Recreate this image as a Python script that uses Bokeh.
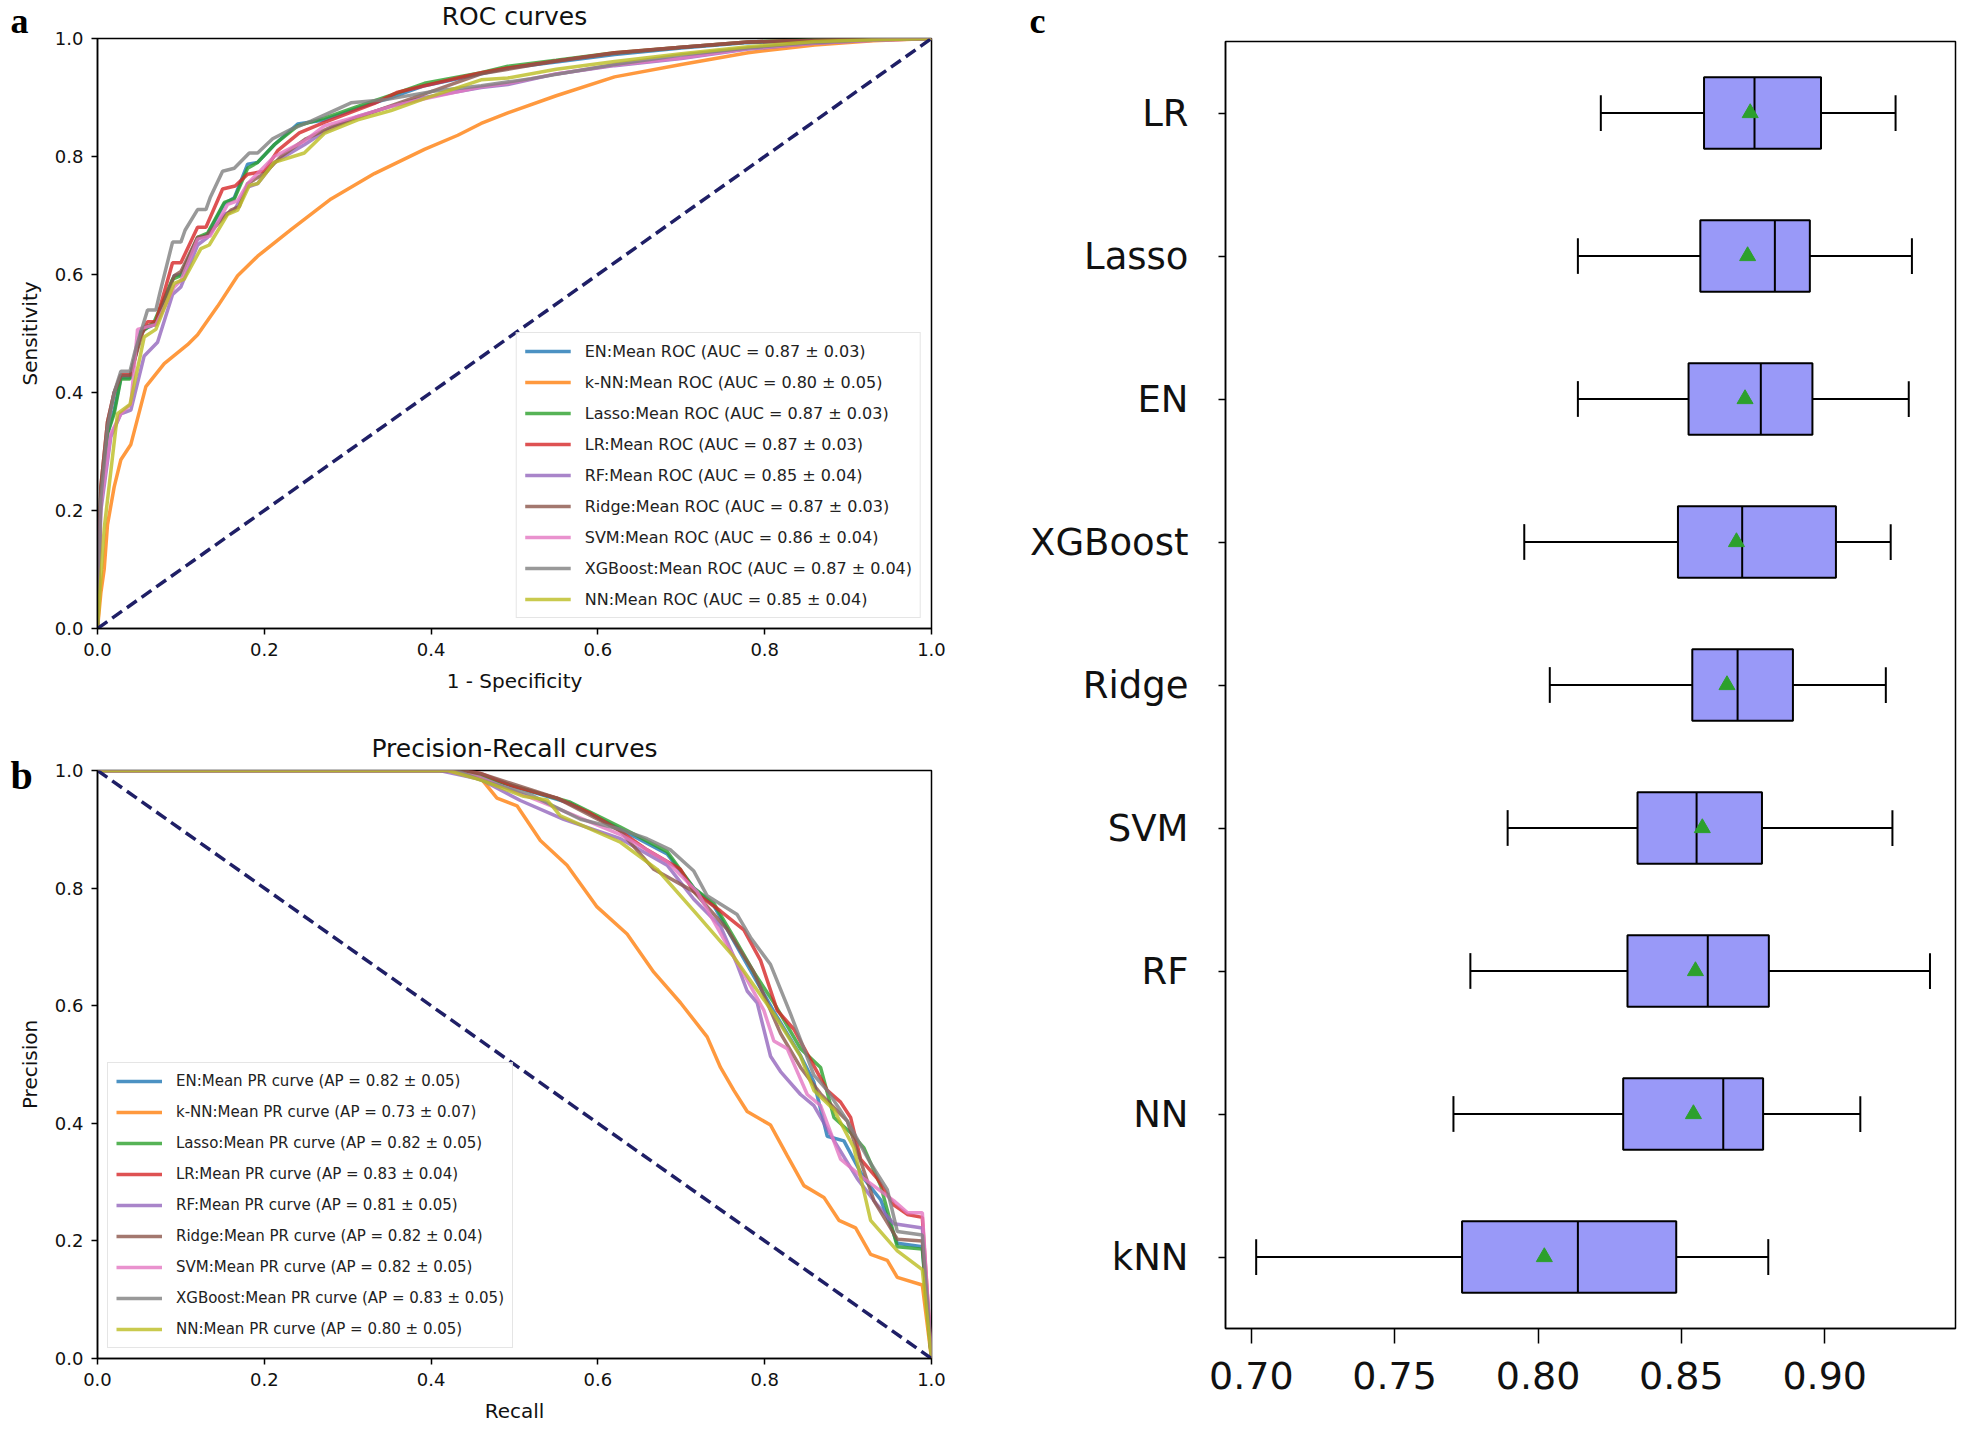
from bokeh.plotting import figure
from bokeh.models import (Legend, LegendItem, Label, ColumnDataSource, FactorRange,
                          Range1d, FixedTicker, NumeralTickFormatter)
from bokeh.transform import dodge
from bokeh.layouts import row, column
from bokeh.embed import file_html
from bokeh.resources import INLINE

# ---------------- data ----------------
models = ["EN", "k-NN", "Lasso", "LR", "RF", "Ridge", "SVM", "XGBoost", "NN"]
colors = ["#1f77b4", "#ff7f0e", "#2ca02c", "#d62728", "#9467bd",
          "#8c564b", "#e377c2", "#7f7f7f", "#bcbd22"]
auc_text = ["0.87 ± 0.03", "0.80 ± 0.05", "0.87 ± 0.03", "0.87 ± 0.03", "0.85 ± 0.04",
            "0.87 ± 0.03", "0.86 ± 0.04", "0.87 ± 0.04", "0.85 ± 0.04"]
ap_text = ["0.82 ± 0.05", "0.73 ± 0.07", "0.82 ± 0.05", "0.83 ± 0.04", "0.81 ± 0.05",
           "0.82 ± 0.04", "0.82 ± 0.05", "0.83 ± 0.05", "0.80 ± 0.05"]

# ROC curves (1 - specificity, sensitivity)
roc_fpr_EN = [0, 0.004, 0.012, 0.02, 0.028, 0.039, 0.052, 0.068, 0.092, 0.10, 0.12, 0.132, 0.152, 0.164, 0.18, 0.192, 0.212, 0.24, 0.272, 0.312, 0.352, 0.392, 0.46, 0.492, 0.55, 0.62, 0.70, 0.78, 0.86, 0.93, 1.0]
roc_tpr_EN = [0, 0.23, 0.33, 0.37, 0.425, 0.425, 0.505, 0.515, 0.598, 0.60, 0.66, 0.668, 0.72, 0.73, 0.787, 0.79, 0.82, 0.855, 0.862, 0.882, 0.90, 0.92, 0.94, 0.95, 0.96, 0.973, 0.984, 0.993, 0.997, 0.999, 1.0]
roc_fpr_kNN = [0, 0.004, 0.008, 0.012, 0.02, 0.028, 0.04, 0.058, 0.08, 0.108, 0.12, 0.144, 0.168, 0.192, 0.232, 0.28, 0.332, 0.392, 0.432, 0.46, 0.492, 0.55, 0.62, 0.70, 0.78, 0.86, 0.93, 1.0]
roc_tpr_kNN = [0, 0.06, 0.10, 0.176, 0.24, 0.286, 0.312, 0.41, 0.449, 0.481, 0.498, 0.546, 0.598, 0.631, 0.676, 0.728, 0.771, 0.812, 0.836, 0.856, 0.874, 0.903, 0.935, 0.956, 0.976, 0.989, 0.996, 1.0]
roc_fpr_Lasso = [0, 0.004, 0.012, 0.02, 0.028, 0.039, 0.052, 0.068, 0.09, 0.10, 0.12, 0.132, 0.152, 0.164, 0.18, 0.192, 0.212, 0.24, 0.272, 0.312, 0.352, 0.392, 0.46, 0.492, 0.55, 0.62, 0.70, 0.78, 0.86, 0.93, 1.0]
roc_tpr_Lasso = [0, 0.234, 0.33, 0.364, 0.423, 0.423, 0.501, 0.52, 0.592, 0.598, 0.663, 0.67, 0.722, 0.728, 0.78, 0.79, 0.82, 0.852, 0.865, 0.885, 0.904, 0.924, 0.942, 0.953, 0.963, 0.976, 0.985, 0.994, 0.998, 0.999, 1.0]
roc_fpr_LR = [0, 0.004, 0.012, 0.02, 0.028, 0.04, 0.05, 0.06, 0.07, 0.09, 0.10, 0.12, 0.13, 0.15, 0.165, 0.18, 0.2, 0.216, 0.242, 0.272, 0.332, 0.36, 0.392, 0.432, 0.46, 0.492, 0.55, 0.62, 0.70, 0.78, 0.86, 0.93, 1.0]
roc_tpr_LR = [0, 0.24, 0.35, 0.40, 0.43, 0.43, 0.49, 0.52, 0.52, 0.62, 0.62, 0.68, 0.68, 0.745, 0.75, 0.77, 0.775, 0.81, 0.84, 0.858, 0.89, 0.909, 0.92, 0.933, 0.942, 0.95, 0.962, 0.976, 0.985, 0.994, 0.997, 0.999, 1.0]
roc_fpr_RF = [0, 0.004, 0.016, 0.028, 0.04, 0.056, 0.072, 0.09, 0.10, 0.12, 0.132, 0.152, 0.164, 0.18, 0.192, 0.212, 0.248, 0.272, 0.312, 0.352, 0.392, 0.46, 0.492, 0.55, 0.62, 0.70, 0.78, 0.86, 0.93, 1.0]
roc_tpr_RF = [0, 0.20, 0.325, 0.364, 0.37, 0.462, 0.485, 0.566, 0.579, 0.65, 0.663, 0.702, 0.709, 0.748, 0.754, 0.79, 0.82, 0.842, 0.868, 0.885, 0.90, 0.917, 0.922, 0.94, 0.954, 0.966, 0.982, 0.992, 0.997, 1.0]
roc_fpr_Ridge = [0, 0.004, 0.012, 0.02, 0.028, 0.039, 0.056, 0.07, 0.092, 0.10, 0.12, 0.13, 0.16, 0.17, 0.18, 0.20, 0.22, 0.25, 0.28, 0.32, 0.36, 0.40, 0.46, 0.55, 0.62, 0.70, 0.78, 0.86, 0.93, 1.0]
roc_tpr_Ridge = [0, 0.24, 0.35, 0.40, 0.429, 0.429, 0.511, 0.515, 0.598, 0.605, 0.663, 0.665, 0.709, 0.715, 0.754, 0.771, 0.80, 0.83, 0.85, 0.87, 0.89, 0.91, 0.94, 0.962, 0.975, 0.985, 0.994, 0.997, 0.999, 1.0]
roc_fpr_SVM = [0, 0.004, 0.016, 0.028, 0.04, 0.048, 0.07, 0.092, 0.10, 0.12, 0.135, 0.156, 0.168, 0.18, 0.212, 0.248, 0.272, 0.312, 0.352, 0.392, 0.46, 0.492, 0.55, 0.62, 0.70, 0.78, 0.86, 0.93, 1.0]
roc_tpr_SVM = [0, 0.21, 0.33, 0.364, 0.38, 0.507, 0.515, 0.579, 0.59, 0.66, 0.665, 0.719, 0.725, 0.754, 0.80, 0.826, 0.852, 0.868, 0.885, 0.898, 0.918, 0.924, 0.94, 0.955, 0.967, 0.983, 0.992, 0.997, 1.0]
roc_fpr_XGB = [0, 0.004, 0.012, 0.02, 0.028, 0.039, 0.045, 0.06, 0.07, 0.075, 0.09, 0.10, 0.105, 0.12, 0.13, 0.135, 0.15, 0.164, 0.182, 0.192, 0.21, 0.232, 0.256, 0.304, 0.344, 0.40, 0.46, 0.52, 0.62, 0.70, 0.78, 0.86, 0.93, 1.0]
roc_tpr_XGB = [0, 0.22, 0.34, 0.40, 0.436, 0.436, 0.47, 0.54, 0.54, 0.57, 0.655, 0.655, 0.675, 0.71, 0.71, 0.73, 0.775, 0.78, 0.806, 0.806, 0.83, 0.846, 0.86, 0.891, 0.896, 0.91, 0.92, 0.932, 0.956, 0.972, 0.984, 0.993, 0.998, 1.0]
roc_fpr_NN = [0, 0.008, 0.024, 0.039, 0.056, 0.07, 0.092, 0.104, 0.124, 0.134, 0.156, 0.168, 0.182, 0.192, 0.212, 0.248, 0.272, 0.312, 0.352, 0.392, 0.46, 0.492, 0.55, 0.62, 0.70, 0.78, 0.86, 0.93, 1.0]
roc_tpr_NN = [0, 0.169, 0.364, 0.38, 0.494, 0.507, 0.585, 0.592, 0.644, 0.65, 0.702, 0.709, 0.751, 0.754, 0.79, 0.806, 0.839, 0.862, 0.878, 0.898, 0.93, 0.933, 0.948, 0.961, 0.974, 0.986, 0.995, 0.998, 1.0]

# Precision-recall curves (recall, precision)
pr_rec_EN = [0, 0.44, 0.459, 0.567, 0.627, 0.683, 0.715, 0.739, 0.763, 0.787, 0.811, 0.843, 0.859, 0.875, 0.895, 0.919, 0.939, 0.959, 0.989, 1.0]
pr_prec_EN = [1, 1, 0.99, 0.944, 0.90, 0.858, 0.80, 0.77, 0.71, 0.65, 0.59, 0.515, 0.47, 0.378, 0.37, 0.306, 0.27, 0.196, 0.19, 0.0]
pr_rec_kNN = [0, 0.40, 0.42, 0.459, 0.479, 0.503, 0.531, 0.563, 0.599, 0.635, 0.667, 0.699, 0.731, 0.747, 0.763, 0.779, 0.807, 0.827, 0.847, 0.871, 0.889, 0.909, 0.927, 0.947, 0.959, 0.989, 1.0]
pr_prec_kNN = [1, 1, 1, 0.988, 0.953, 0.94, 0.881, 0.839, 0.768, 0.722, 0.657, 0.605, 0.547, 0.495, 0.456, 0.42, 0.397, 0.345, 0.294, 0.274, 0.235, 0.222, 0.177, 0.167, 0.138, 0.125, 0.0]
pr_rec_Lasso = [0, 0.44, 0.459, 0.567, 0.627, 0.683, 0.715, 0.739, 0.763, 0.787, 0.811, 0.843, 0.867, 0.883, 0.903, 0.919, 0.939, 0.959, 0.989, 1.0]
pr_prec_Lasso = [1, 1, 0.99, 0.946, 0.904, 0.862, 0.80, 0.774, 0.716, 0.657, 0.605, 0.527, 0.495, 0.41, 0.384, 0.358, 0.294, 0.19, 0.186, 0.0]
pr_rec_LR = [0, 0.44, 0.459, 0.499, 0.551, 0.591, 0.627, 0.659, 0.699, 0.715, 0.747, 0.775, 0.795, 0.815, 0.835, 0.855, 0.875, 0.891, 0.903, 0.915, 0.935, 0.955, 0.971, 0.989, 1.0]
pr_prec_LR = [1, 1, 0.995, 0.973, 0.953, 0.927, 0.897, 0.865, 0.832, 0.794, 0.761, 0.729, 0.677, 0.592, 0.56, 0.508, 0.456, 0.436, 0.41, 0.339, 0.306, 0.261, 0.245, 0.24, 0.0]
pr_rec_RF = [0, 0.41, 0.459, 0.507, 0.559, 0.627, 0.683, 0.715, 0.747, 0.767, 0.779, 0.791, 0.807, 0.819, 0.843, 0.859, 0.883, 0.911, 0.935, 0.955, 0.989, 1.0]
pr_prec_RF = [1, 1, 0.985, 0.949, 0.917, 0.884, 0.839, 0.781, 0.735, 0.67, 0.625, 0.605, 0.514, 0.488, 0.449, 0.43, 0.371, 0.306, 0.261, 0.229, 0.222, 0.0]
pr_rec_Ridge = [0, 0.44, 0.459, 0.551, 0.627, 0.667, 0.715, 0.755, 0.787, 0.819, 0.843, 0.867, 0.899, 0.931, 0.959, 0.989, 1.0]
pr_prec_Ridge = [1, 1, 0.995, 0.953, 0.897, 0.832, 0.794, 0.73, 0.657, 0.553, 0.495, 0.45, 0.404, 0.268, 0.203, 0.20, 0.0]
pr_rec_SVM = [0, 0.42, 0.459, 0.539, 0.627, 0.683, 0.719, 0.755, 0.779, 0.799, 0.811, 0.827, 0.851, 0.867, 0.891, 0.919, 0.955, 0.971, 0.989, 1.0]
pr_prec_SVM = [1, 1, 0.988, 0.943, 0.891, 0.845, 0.794, 0.703, 0.644, 0.592, 0.54, 0.527, 0.449, 0.43, 0.339, 0.306, 0.268, 0.248, 0.248, 0.0]
pr_rec_XGB = [0, 0.43, 0.459, 0.519, 0.579, 0.627, 0.659, 0.687, 0.715, 0.731, 0.767, 0.783, 0.807, 0.831, 0.847, 0.859, 0.875, 0.899, 0.927, 0.947, 0.959, 0.989, 1.0]
pr_prec_XGB = [1, 1, 0.984, 0.959, 0.917, 0.90, 0.884, 0.865, 0.829, 0.787, 0.755, 0.716, 0.67, 0.586, 0.527, 0.482, 0.456, 0.404, 0.332, 0.287, 0.216, 0.21, 0.0]
pr_rec_NN = [0, 0.42, 0.459, 0.511, 0.539, 0.555, 0.627, 0.671, 0.719, 0.763, 0.811, 0.843, 0.859, 0.883, 0.907, 0.927, 0.959, 0.989, 1.0]
pr_prec_NN = [1, 1, 0.984, 0.956, 0.95, 0.923, 0.878, 0.832, 0.755, 0.683, 0.586, 0.514, 0.456, 0.423, 0.358, 0.235, 0.183, 0.151, 0.0]

chance_x = [0, 1]
roc_chance_y = [0, 1]
pr_chance_y = [1, 0]

# Box plot (panel c): whisker low, q1, median, q3, whisker high, mean
box_models = ["LR", "Lasso", "EN", "XGBoost", "Ridge", "SVM", "RF", "NN", "kNN"]
box_wlo = [0.8219, 0.8139, 0.8139, 0.7952, 0.8041, 0.7894, 0.7764, 0.7705, 0.7017]
box_q1 = [0.8579, 0.8566, 0.8525, 0.8488, 0.8538, 0.8347, 0.8312, 0.8297, 0.7735]
box_med = [0.8755, 0.8826, 0.8777, 0.8712, 0.8696, 0.8553, 0.8592, 0.8646, 0.8139]
box_q3 = [0.8987, 0.8948, 0.8957, 0.9039, 0.8889, 0.8781, 0.8805, 0.8785, 0.8482]
box_whi = [0.9247, 0.9304, 0.9293, 0.9230, 0.9213, 0.9236, 0.9367, 0.9124, 0.8803]
box_mean = [0.8740, 0.8731, 0.8722, 0.8692, 0.8659, 0.8573, 0.8549, 0.8542, 0.8022]

roc_x = [roc_fpr_EN, roc_fpr_kNN, roc_fpr_Lasso, roc_fpr_LR, roc_fpr_RF, roc_fpr_Ridge, roc_fpr_SVM, roc_fpr_XGB, roc_fpr_NN]
roc_y = [roc_tpr_EN, roc_tpr_kNN, roc_tpr_Lasso, roc_tpr_LR, roc_tpr_RF, roc_tpr_Ridge, roc_tpr_SVM, roc_tpr_XGB, roc_tpr_NN]
pr_x = [pr_rec_EN, pr_rec_kNN, pr_rec_Lasso, pr_rec_LR, pr_rec_RF, pr_rec_Ridge, pr_rec_SVM, pr_rec_XGB, pr_rec_NN]
pr_y = [pr_prec_EN, pr_prec_kNN, pr_prec_Lasso, pr_prec_LR, pr_prec_RF, pr_prec_Ridge, pr_prec_SVM, pr_prec_XGB, pr_prec_NN]

FONT = "DejaVu Sans"
TXT = "#111111"

# layout geometry (page pixels)
LEFT_W = 998
BL, BR = 97, 67          # left figures: frame x 97..931
FRAME_W = LEFT_W - BL - BR


def style_axes(p, tick_size, label_size):
    p.xgrid.visible = False
    p.ygrid.visible = False
    p.outline_line_color = "black"
    p.outline_line_width = 1.5
    p.outline_line_alpha = 1.0
    p.background_fill_color = "white"
    p.border_fill_color = "white"
    for ax in (p.xaxis, p.yaxis):
        ax.axis_line_color = "black"
        ax.axis_line_width = 1.5
        ax.major_tick_line_color = "black"
        ax.major_tick_line_width = 1.5
        ax.minor_tick_line_color = None
        ax.major_tick_in = 0
        ax.major_label_text_font = FONT
        ax.major_label_text_font_size = tick_size
        ax.major_label_text_color = TXT
        ax.axis_label_text_font = FONT
        ax.axis_label_text_font_size = label_size
        ax.axis_label_text_font_style = "normal"
        ax.axis_label_text_color = TXT


def letter_label(letter, x, y, size):
    return Label(x=x, y=y, x_units="screen", y_units="screen", text=letter,
                 text_font="Liberation Serif", text_font_style="bold",
                 text_font_size=size, text_color="black",
                 text_baseline="alphabetic", text_align="left")


def curve_panel(xs, ys, chance_y, legend_fmt, legend_vals, legend_size, xlabel, ylabel,
                title, title_y, letter, letter_y, letter_size, height, border_top,
                border_bottom, legend_loc):
    p = figure(width=LEFT_W, height=height, x_range=Range1d(0, 1), y_range=Range1d(0, 1),
               output_backend="svg", toolbar_location=None,
               min_border_left=BL, min_border_right=BR,
               min_border_top=border_top, min_border_bottom=border_bottom)
    style_axes(p, "18px", "20px")
    ticks = [0, 0.2, 0.4, 0.6, 0.8, 1.0]
    p.xaxis.ticker = FixedTicker(ticks=ticks)
    p.yaxis.ticker = FixedTicker(ticks=ticks)
    p.xaxis.formatter = NumeralTickFormatter(format="0.0")
    p.yaxis.formatter = NumeralTickFormatter(format="0.0")
    p.xaxis.major_tick_out = 6
    p.yaxis.major_tick_out = 6
    p.xaxis.major_label_standoff = 8
    p.yaxis.major_label_standoff = 8
    p.xaxis.axis_label = xlabel
    p.yaxis.axis_label = ylabel
    p.xaxis.axis_label_standoff = 10
    p.yaxis.axis_label_standoff = 10

    items = []
    for name, col, x, y, val in zip(models, colors, xs, ys, legend_vals):
        r = p.line(x, y, line_color=col, line_width=3.5, line_alpha=0.8)
        items.append(LegendItem(label=legend_fmt.format(name, val), renderers=[r]))
    p.line(chance_x, chance_y, line_color="#1f1f66", line_width=3.5, line_dash="12 6")

    leg = Legend(items=items, location=legend_loc, margin=10)
    leg.label_text_font = FONT
    leg.label_text_font_size = legend_size
    leg.label_text_color = "#222222"
    leg.glyph_width = 46
    leg.glyph_height = 20
    leg.label_height = 20
    leg.label_standoff = 14
    leg.spacing = 11
    leg.padding = 8
    leg.border_line_color = "#cccccc"
    leg.border_line_width = 1
    leg.background_fill_alpha = 0.8
    p.add_layout(leg)

    # title above the frame
    p.add_layout(Label(x=FRAME_W / 2, y=title_y, x_units="screen", y_units="screen",
                       text=title, text_font=FONT, text_font_size="25px", text_color=TXT,
                       text_align="center", text_baseline="alphabetic"), "above")
    # panel letter lives in the (spare) right border panel; coordinates from frame right/bottom
    frame_h = height - border_top - border_bottom
    p.add_layout(letter_label(letter, -(BL + FRAME_W) + 10, frame_h + letter_y, letter_size),
                 "right")
    return p


# fig a: page y 0..708, frame 38..628
pa = curve_panel(roc_x, roc_y, roc_chance_y, "{}:Mean ROC (AUC = {})", auc_text, "16px",
                 "1 - Specificity", "Sensitivity", "ROC curves", 22, "a", 18, "36px",
                 708, 38, 80, "bottom_right")
# fig b: page y 708..1425, frame 770..1358
pb = curve_panel(pr_x, pr_y, pr_chance_y, "{}:Mean PR curve (AP = {})", ap_text, "15px",
                 "Recall", "Precision", "Precision-Recall curves", 22, "b", -5, "40px",
                 717, 62, 67, "bottom_left")

# ---------------- panel c ----------------
cats_rev = list(reversed(box_models))
pc = figure(width=961, height=1425, x_range=Range1d(0.691, 0.9456),
            y_range=FactorRange(factors=cats_rev, range_padding=0),
            output_backend="svg", toolbar_location=None,
            min_border_left=227, min_border_right=4, min_border_top=41, min_border_bottom=97)
style_axes(pc, "37px", "20px")
pc.xaxis.ticker = FixedTicker(ticks=[0.70, 0.75, 0.80, 0.85, 0.90])
pc.xaxis.formatter = NumeralTickFormatter(format="0.00")
pc.xaxis.major_tick_out = 15
pc.xaxis.major_label_standoff = 18
pc.yaxis.major_tick_out = 7
pc.yaxis.major_label_standoff = 30
pc.yaxis.major_label_text_font_size = "37px"
pc.xaxis.major_label_text_font_size = "38px"

src = ColumnDataSource(data=dict(cat=box_models, wlo=box_wlo, q1=box_q1, med=box_med,
                                 q3=box_q3, whi=box_whi, mean=box_mean))
pc.segment(x0="wlo", x1="q1", y0="cat", y1="cat", source=src, line_color="black", line_width=2)
pc.segment(x0="q3", x1="whi", y0="cat", y1="cat", source=src, line_color="black", line_width=2)
pc.segment(x0="wlo", x1="wlo", y0=dodge("cat", -0.125, range=pc.y_range),
           y1=dodge("cat", 0.125, range=pc.y_range), source=src, line_color="black", line_width=2)
pc.segment(x0="whi", x1="whi", y0=dodge("cat", -0.125, range=pc.y_range),
           y1=dodge("cat", 0.125, range=pc.y_range), source=src, line_color="black", line_width=2)
pc.hbar(y="cat", left="q1", right="q3", height=0.5, source=src,
        fill_color="#9999f8", line_color="black", line_width=2)
pc.segment(x0="med", x1="med", y0=dodge("cat", -0.25, range=pc.y_range),
           y1=dodge("cat", 0.25, range=pc.y_range), source=src, line_color="black", line_width=2)
pc.scatter(x="mean", y="cat", source=src, marker="triangle", size=16,
           fill_color="#2ca02c", line_color="#2ca02c")
# letter c above the frame
pc.add_layout(letter_label("c", 1029 - (LEFT_W + 227), 21, "36px"), "above")

layout = row(column(pa, pb), pc)
with open("out.html", "w") as f:
    f.write(file_html(layout, INLINE))
